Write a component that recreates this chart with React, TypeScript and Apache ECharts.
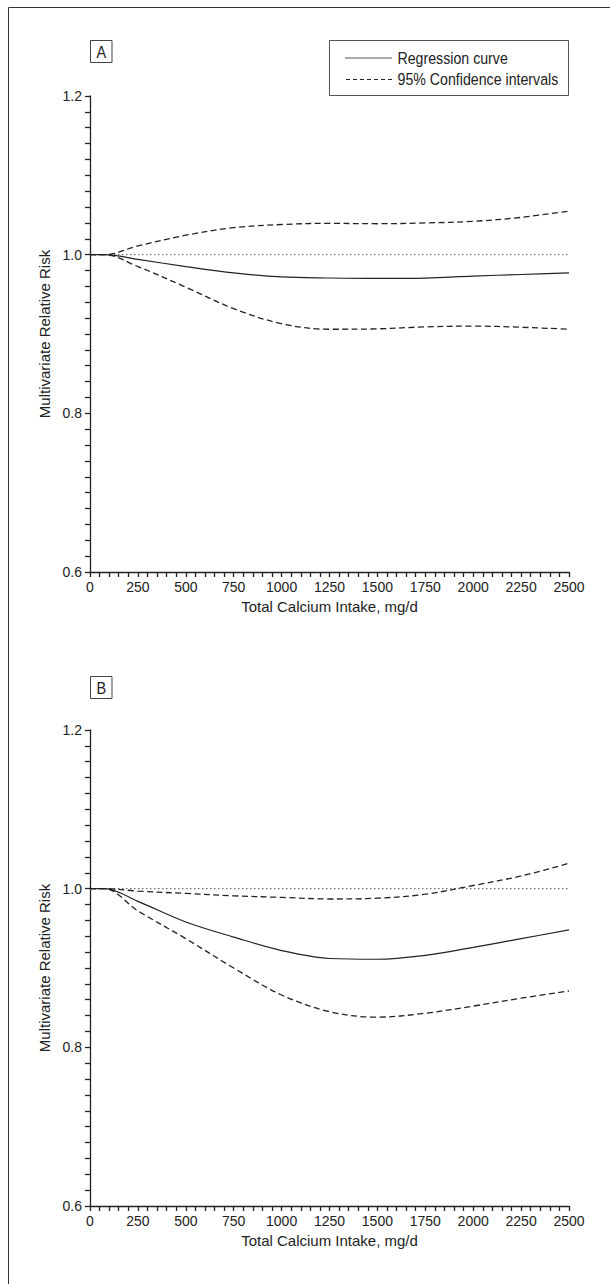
import React, { useEffect, useRef } from "react";
import * as echarts from "echarts";

const intake = [0, 75, 250, 500, 750, 1000, 1250, 1500, 1750, 2000, 2250, 2500];

const regressionA = [1, 1, 0.994, 0.985, 0.977, 0.972, 0.9706, 0.97, 0.9705, 0.973, 0.975, 0.977];
const upperA = [1, 1, 1.011, 1.0245, 1.034, 1.038, 1.0395, 1.039, 1.04, 1.042, 1.047, 1.055];
const lowerA = [1, 1, 0.985, 0.959, 0.932, 0.913, 0.906, 0.9065, 0.909, 0.91, 0.9085, 0.906];

const regressionB = [1, 1, 0.984, 0.958, 0.939, 0.922, 0.912, 0.911, 0.916, 0.926, 0.937, 0.948];
const upperB = [1, 1, 0.997, 0.994, 0.991, 0.989, 0.987, 0.988, 0.993, 1.004, 1.016, 1.032];
const lowerB = [1, 1, 0.972, 0.937, 0.9, 0.866, 0.845, 0.838, 0.843, 0.852, 0.862, 0.871];

const referenceX = [0, 2500];
const referenceY = [1, 1];

const panelLabels = ["A", "B"];
const legendLabels = ["Regression curve", "95% Confidence intervals"];
const xTitle = "Total Calcium Intake, mg/d";
const yTitle = "Multivariate Relative Risk";

const FONT = "'Liberation Sans', Arial, sans-serif";
const INK = "#222";

const pairs = (xs: number[], ys: number[]) => xs.map((x, i) => [x, ys[i]]);

export default function App() {
  const ref = useRef<HTMLDivElement>(null);
  useEffect(() => {
    if (!ref.current) return;
    const chart = echarts.init(ref.current, undefined, { renderer: "svg" });
    const tops = [96, 730];
    const grids = tops.map((t) => ({ left: 90, top: t, width: 479, height: 476 }));
    const xAxes = tops.map((_, i) => ({
      type: "value",
      gridIndex: i,
      min: 0,
      max: 2500,
      interval: 250,
      name: xTitle,
      nameLocation: "middle",
      nameGap: 27,
      nameTextStyle: { fontFamily: FONT, fontSize: 15, color: INK },
      axisLine: { show: true, lineStyle: { color: INK, width: 1.3 } },
      axisTick: { show: true, length: 5, lineStyle: { color: INK, width: 1.3 } },
      minorTick: { show: true, splitNumber: 5, length: 5, lineStyle: { color: INK, width: 1.3 } },
      splitLine: { show: false },
      axisLabel: {
        fontFamily: FONT,
        fontSize: 14,
        color: INK,
        margin: 8,
        showMinLabel: true,
        showMaxLabel: true,
        formatter: (v: number) => String(v),
      },
    }));
    const yAxes = tops.map((_, i) => ({
      type: "value",
      gridIndex: i,
      min: 0.6,
      max: 1.2,
      interval: 0.2,
      name: yTitle,
      nameLocation: "middle",
      nameGap: 33,
      nameTextStyle: { fontFamily: FONT, fontSize: 15, color: INK },
      axisLine: { show: true, lineStyle: { color: INK, width: 1.3 } },
      axisTick: { show: true, length: 5, lineStyle: { color: INK, width: 1.3 } },
      minorTick: { show: true, splitNumber: 10, length: 5, lineStyle: { color: INK, width: 1.3 } },
      splitLine: { show: false },
      axisLabel: { fontFamily: FONT, fontSize: 14, color: INK, margin: 8, formatter: (v: number) => v.toFixed(1) },
    }));
    const panels = [
      { reg: regressionA, up: upperA, lo: lowerA },
      { reg: regressionB, up: upperB, lo: lowerB },
    ];
    const series: any[] = [];
    panels.forEach((p, i) => {
      series.push({
        type: "line",
        name: "Reference",
        xAxisIndex: i,
        yAxisIndex: i,
        data: pairs(referenceX, referenceY),
        showSymbol: false,
        lineStyle: { color: "#555", width: 1, type: [1.5, 2.5] },
        z: 1,
      });
      series.push({
        type: "line",
        name: legendLabels[1],
        xAxisIndex: i,
        yAxisIndex: i,
        data: pairs(intake, p.up),
        smooth: 0.35,
        showSymbol: false,
        lineStyle: { color: INK, width: 1.3, type: [6, 3.5] },
        z: 2,
      });
      series.push({
        type: "line",
        name: legendLabels[1],
        xAxisIndex: i,
        yAxisIndex: i,
        data: pairs(intake, p.lo),
        smooth: 0.35,
        showSymbol: false,
        lineStyle: { color: INK, width: 1.3, type: [6, 3.5] },
        z: 2,
      });
      series.push({
        type: "line",
        name: legendLabels[0],
        xAxisIndex: i,
        yAxisIndex: i,
        data: pairs(intake, p.reg),
        smooth: 0.35,
        showSymbol: false,
        lineStyle: { color: INK, width: 1.2 },
        z: 3,
      });
    });

    const boxLabel = (label: string, top: number) => ({
      type: "group",
      children: [
        { type: "rect", shape: { x: 90.5, y: top + 0.5, width: 21.5, height: 22 }, style: { fill: "#fff", stroke: "#444", lineWidth: 1 } },
        {
          type: "text",
          x: 101.3,
          y: top + 11.8,
          scaleX: 0.85,
          style: { text: label, x: 0, y: 0, fontFamily: FONT, fontSize: 17, fill: INK, align: "center", verticalAlign: "middle" },
        },
      ],
    });

    const legendText = (text: string, y: number) => ({
      type: "text",
      x: 397.5,
      y,
      scaleX: 0.86,
      style: { text, x: 0, y: 0, fontFamily: FONT, fontSize: 16.5, fill: INK, verticalAlign: "middle" },
    });

    const graphic: any[] = [
      { type: "rect", shape: { x: 8.5, y: 7.5, width: 700, height: 1400 }, style: { fill: "none", stroke: "#333", lineWidth: 1 }, silent: true },
      boxLabel(panelLabels[0], 40),
      boxLabel(panelLabels[1], 676),
      { type: "rect", shape: { x: 329.5, y: 40.5, width: 239, height: 55 }, style: { fill: "#fff", stroke: "#555", lineWidth: 1 } },
      { type: "line", shape: { x1: 345, y1: 58, x2: 392, y2: 58 }, style: { stroke: "#555", lineWidth: 1.2 } },
      { type: "line", shape: { x1: 346, y1: 79.5, x2: 392, y2: 79.5 }, style: { stroke: INK, lineWidth: 1.2, lineDash: [4, 3] } },
      legendText(legendLabels[0], 58.5),
      legendText(legendLabels[1], 79.5),
    ];

    chart.setOption({
      animation: false,
      backgroundColor: "#fff",
      grid: grids,
      xAxis: xAxes,
      yAxis: yAxes,
      series,
      graphic,
    });
    return () => chart.dispose();
  }, []);
  return <div ref={ref} style={{ position: "absolute", left: 0, top: 0, width: 610, height: 1284 }} />;
}
